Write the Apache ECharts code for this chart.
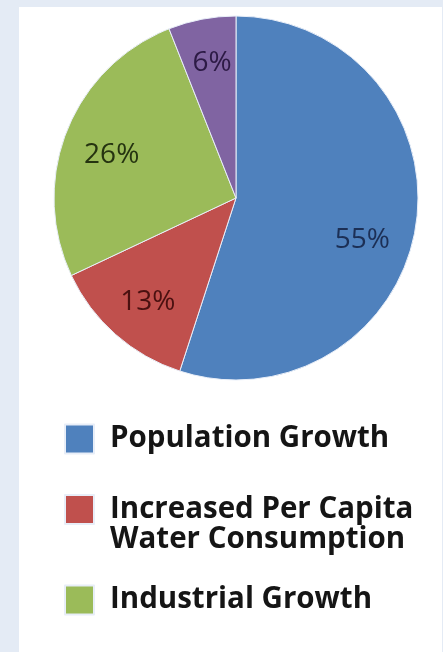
<!DOCTYPE html>
<html>
<head>
<meta charset="UTF-8" />
<script type="text/javascript" src="https://cdn.jsdelivr.net/npm/echarts@6/dist/echarts.min.js"></script>
<style>
	html, body { margin: 0; padding: 0; background: #e4ebf5; }
	#chartmain { position: absolute; left: 19px; top: 7px; width: 423px; height: 645px; background: #ffffff; }
</style>
</head>
<body>
	<div id="chartmain"></div>

	<script type="text/javascript">
		// data
		var categories = [ 'Population Growth', 'Increased Per Capita Water Consumption', 'Industrial Growth', 'Other' ];
		// leading blank line keeps the first text line level with the square
		var legendLabels = [ 'Population Growth', '\nIncreased Per Capita\nWater Consumption', 'Industrial Growth' ];
		var shares = [ 55, 13, 26, 6 ];

		// office style palette
		var colors = [ '#4f81bd', '#c0504d', '#9bbb59', '#8064a2' ];
		var labelColors = [ '#1c2f55', '#4a1010', '#253310', '#2c1a45' ];
		var labelNudges = [ [ -10, 20 ], [ 3, 1 ], [ 4, 8 ], [ 2, 1 ] ];

		var center = [ 217, 191 ];
		var radius = 182;

		var pieData = [];
		var labelData = [];
		for (var i = 0; i < categories.length; i++) {
			pieData.push({
				name : categories[i],
				value : shares[i],
				itemStyle : { color : colors[i] }
			});
			labelData.push({
				name : categories[i],
				value : shares[i],
				itemStyle : { color : 'rgba(0,0,0,0)' },
				label : { color : labelColors[i], offset : labelNudges[i] }
			});
		}

		// one legend per entry so the two-line item can sit like the original
		var legendTops = [ 416.5, 457.5, 577.5 ];
		var legends = [];
		for (var j = 0; j < legendLabels.length; j++) {
			legends.push({
				orient : 'vertical',
				left : 45,
				top : legendTops[j],
				padding : 0,
				selectedMode : false,
				itemWidth : 29,
				itemHeight : 29,
				icon : 'rect',
				data : [ {
					name : categories[j],
					itemStyle : { color : colors[j] }
				} ],
				formatter : (function(txt) {
					return function() { return txt; };
				})(legendLabels[j]),
				textStyle : {
					fontFamily : 'Open Sans',
					fontWeight : 'bold',
					fontSize : 29.5,
					lineHeight : 30,
					color : '#151515',
					padding : [ 0, 0, 0, 11 ]
				}
			});
		}

		var option = {
			animation : false,
			legend : legends,
			series : [ {
				name : 'slices',
				type : 'pie',
				center : center,
				radius : radius,
				startAngle : 90,
				clockwise : true,
				silent : true,
				label : { show : false },
				labelLine : { show : false },
				itemStyle : { borderColor : '#e8eef8', borderWidth : 1 },
				data : pieData
			}, {
				name : 'labels',
				type : 'pie',
				center : center,
				radius : [ 88, radius ],
				startAngle : 90,
				clockwise : true,
				silent : true,
				labelLine : { show : false },
				label : {
					show : true,
					position : 'inside',
					formatter : '{c}%',
					fontFamily : 'Open Sans',
					fontSize : 28
				},
				data : labelData
			} ]
		};

		var myChart = echarts.init(document.getElementById('chartmain'));
		myChart.setOption(option);
	</script>
</body>
</html>
